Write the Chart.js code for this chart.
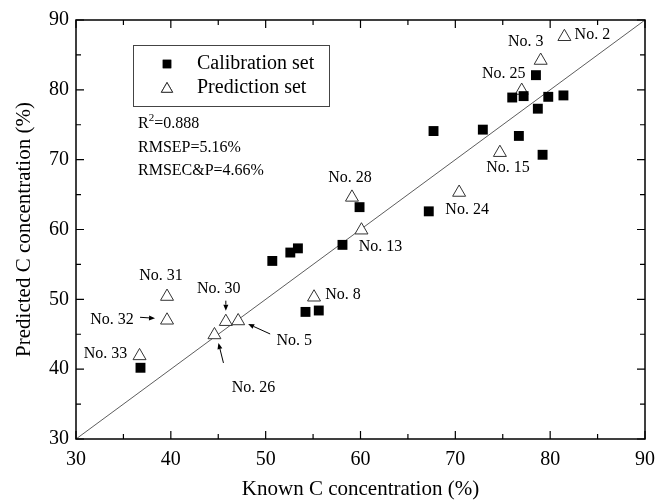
<!DOCTYPE html>
<html>
<head>
<meta charset="utf-8">
<script src="https://cdn.jsdelivr.net/npm/chart.js@4.4.0/dist/chart.umd.min.js"></script>
<style>
  html, body { margin: 0; padding: 0; background: #fff; }
</style>
</head>
<body>
<canvas id="chart" width="666" height="502"></canvas>
<script>
// ---- data ----
const calKnown = [36.8, 50.7, 52.6, 53.4, 54.2, 55.6, 58.1, 59.9, 67.2, 67.7, 72.9, 76.7, 76.0, 77.2, 78.5, 78.7, 79.2, 79.8, 81.4];
const calPred  = [40.2, 55.5, 56.7, 57.3, 48.2, 48.4, 57.8, 63.2, 62.6, 74.1, 74.3, 73.4, 78.9, 79.1, 82.1, 77.3, 70.7, 79.0, 79.2];

const predNames = ['No. 2', 'No. 3', 'No. 25', 'No. 15', 'No. 24', 'No. 28', 'No. 13', 'No. 8', 'No. 31', 'No. 32', 'No. 33', 'No. 30', 'No. 5', 'No. 26'];
const predKnown = [81.5, 79.0, 77.0, 74.7, 70.4, 59.1, 60.1, 55.1, 39.6, 39.6, 36.7, 45.8, 47.1, 44.6];
const predPred  = [87.6, 84.2, 79.9, 71.0, 65.3, 64.6, 59.9, 50.3, 50.4, 47.0, 41.9, 46.8, 46.9, 44.9];

const axisMin = 30, axisMax = 90;
const statLines = ['=0.888', 'RMSEP=5.16%', 'RMSEC&P=4.66%'];

// ---- label placement (pixel offsets from each triangle) ----
const labelOffsets = [
    [28, -2], [-15, -19], [-18, -17], [8, 15], [8, 17], [-2, -20], [19, 17],
    [29, -2], [-6, -21], [-55, 0], [-34, -2], [-7, -33], [56, 20], [39, 53]
];
// arrows: index into pred arrays, from / to offsets
const arrows = [
    { i: 9,  from: [-27, -3], to: [-12, -2] },
    { i: 11, from: [0, -21],  to: [0, -11] },
    { i: 12, from: [32, 13],  to: [10, 3] },
    { i: 13, from: [9, 28],   to: [4, 8] }
];

const SERIF = "'Liberation Serif', 'Times New Roman', serif";

const calPoints = calKnown.map((x, i) => ({ x, y: calPred[i] }));
const predPoints = predKnown.map((x, i) => ({ x, y: predPred[i] }));

function arrow(ctx, x1, y1, x2, y2) {
    const a = Math.atan2(y2 - y1, x2 - x1);
    const hl = 6, hw = 2.5;
    ctx.beginPath();
    ctx.moveTo(x1, y1);
    ctx.lineTo(x2 - Math.cos(a) * hl, y2 - Math.sin(a) * hl);
    ctx.stroke();
    ctx.beginPath();
    ctx.moveTo(x2, y2);
    ctx.lineTo(x2 - Math.cos(a) * hl - Math.sin(a) * hw, y2 - Math.sin(a) * hl + Math.cos(a) * hw);
    ctx.lineTo(x2 - Math.cos(a) * hl + Math.sin(a) * hw, y2 - Math.sin(a) * hl - Math.cos(a) * hw);
    ctx.closePath();
    ctx.fill();
}

// frame, inward ticks, legend box, stats text, annotations
const decor = {
    id: 'decor',
    afterDatasetsDraw(chart) {
        const { ctx, chartArea: ca, scales: { x, y } } = chart;
        ctx.save();
        ctx.strokeStyle = '#000';
        ctx.fillStyle = '#000';

        // frame
        ctx.lineWidth = 1.5;
        ctx.strokeRect(ca.left, ca.top, ca.right - ca.left, ca.bottom - ca.top);

        // ticks every 5, major every 10, on all four sides
        ctx.lineWidth = 1.2;
        ctx.beginPath();
        for (let v = axisMin; v <= axisMax; v += 5) {
            const len = v % 10 === 0 ? 8 : 5;
            const px = x.getPixelForValue(v), py = y.getPixelForValue(v);
            ctx.moveTo(px, ca.bottom); ctx.lineTo(px, ca.bottom - len);
            ctx.moveTo(px, ca.top);    ctx.lineTo(px, ca.top + len);
            ctx.moveTo(ca.left, py);   ctx.lineTo(ca.left + len, py);
            ctx.moveTo(ca.right, py);  ctx.lineTo(ca.right - len, py);
        }
        ctx.stroke();

        // legend
        ctx.lineWidth = 1;
        ctx.strokeStyle = '#444';
        ctx.strokeRect(133.5, 45.5, 196, 61);
        const ds = chart.data.datasets;
        Chart.helpers.drawPoint(ctx, { pointStyle: 'rect', radius: 6, borderWidth: 0 }, 167, 64);
        ctx.fillStyle = '#000';
        ctx.fill();
        ctx.fillStyle = '#fff';
        ctx.strokeStyle = '#333';
        ctx.lineWidth = 1;
        Chart.helpers.drawPoint(ctx, { pointStyle: 'triangle', radius: 6.5, borderWidth: 1 }, 167, 89);
        ctx.fill(); ctx.stroke();
        ctx.fillStyle = '#000';
        ctx.font = '20px ' + SERIF;
        ctx.textBaseline = 'middle';
        ctx.textAlign = 'left';
        ctx.fillText(ds[0].label, 197, 64);
        ctx.fillText(ds[1].label, 197, 88);

        // statistics
        ctx.textBaseline = 'alphabetic';
        ctx.font = '16px ' + SERIF;
        ctx.fillText('R', 138, 128);
        const rw = ctx.measureText('R').width;
        ctx.font = '11px ' + SERIF;
        ctx.fillText('2', 138 + rw, 121);
        const sw = ctx.measureText('2').width;
        ctx.font = '16px ' + SERIF;
        ctx.fillText(statLines[0], 138 + rw + sw, 128);
        ctx.fillText(statLines[1], 138, 152);
        ctx.fillText(statLines[2], 138, 175);

        // point annotations
        ctx.font = '16px ' + SERIF;
        ctx.textAlign = 'center';
        ctx.textBaseline = 'middle';
        const meta = chart.getDatasetMeta(1);
        meta.data.forEach((pt, i) => {
            const [dx, dy] = labelOffsets[i];
            ctx.fillText(predNames[i], pt.x + dx, pt.y + dy);
        });
        ctx.lineWidth = 1;
        ctx.strokeStyle = '#000';
        arrows.forEach(a => {
            const pt = meta.data[a.i];
            arrow(ctx, pt.x + a.from[0], pt.y + a.from[1], pt.x + a.to[0], pt.y + a.to[1]);
        });
        ctx.restore();
    }
};

new Chart(document.getElementById('chart'), {
    type: 'scatter',
    data: {
        datasets: [
            {
                label: 'Calibration set',
                data: calPoints,
                pointStyle: 'rect',
                pointRadius: 7,
                backgroundColor: '#000',
                borderWidth: 0
            },
            {
                label: 'Prediction set',
                data: predPoints,
                pointStyle: 'triangle',
                pointRadius: 7.5,
                backgroundColor: '#fff',
                borderColor: '#333',
                borderWidth: 1
            },
            {
                type: 'line',
                label: 'y=x',
                data: [{ x: axisMin, y: axisMin }, { x: axisMax, y: axisMax }],
                borderColor: '#333',
                borderWidth: 0.8,
                pointRadius: 0,
                fill: false,
                order: 5
            }
        ]
    },
    options: {
        responsive: false,
        animation: false,
        events: [],
        layout: { padding: { left: 0, top: 20, right: 21, bottom: 0 } },
        plugins: { legend: { display: false }, tooltip: { enabled: false } },
        scales: {
            x: {
                type: 'linear',
                min: axisMin, max: axisMax,
                afterFit: s => { s.height = 63; },
                grid: { display: false, drawTicks: false },
                border: { display: false },
                ticks: { stepSize: 10, padding: 9, color: '#000', font: { family: SERIF, size: 20 } },
                title: { display: true, text: 'Known C concentration (%)', color: '#000',
                         font: { family: SERIF, size: 21 }, padding: { top: 0, bottom: 0 } }
            },
            y: {
                type: 'linear',
                min: axisMin, max: axisMax,
                afterFit: s => { s.width = 76; },
                grid: { display: false, drawTicks: false },
                border: { display: false },
                ticks: { stepSize: 10, padding: 7, color: '#000', font: { family: SERIF, size: 20 } },
                title: { display: true, text: 'Predicted C concentration (%)', color: '#000',
                         font: { family: SERIF, size: 21 }, padding: { top: 12, bottom: 0 } }
            }
        }
    },
    plugins: [decor]
});
</script>
</body>
</html>
